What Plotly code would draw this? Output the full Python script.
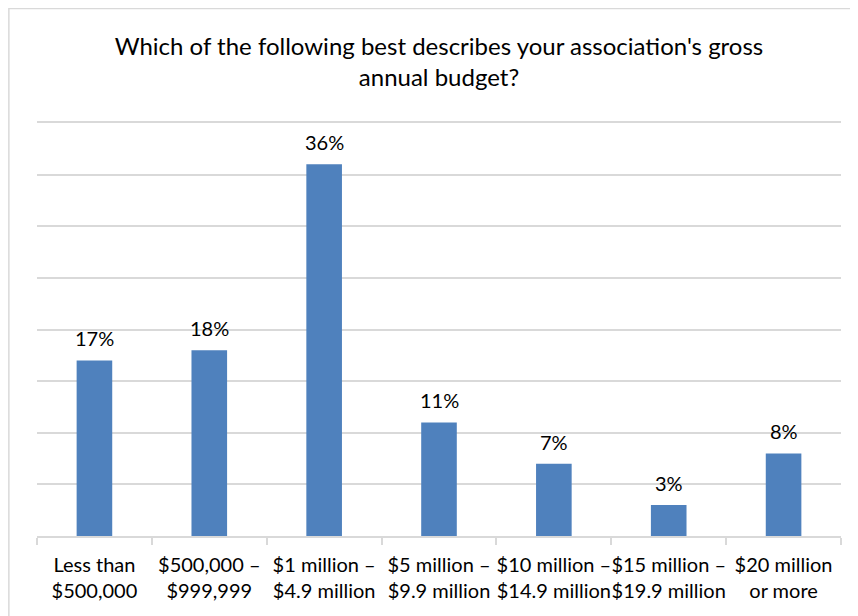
import plotly.graph_objects as go

categories = [
    "Less than<br>$500,000",
    "$500,000 –<br>$999,999",
    "$1 million –<br>$4.9 million",
    "$5 million –<br>$9.9 million",
    "$10 million –<br>$14.9 million",
    "$15 million –<br>$19.9 million",
    "$20 million<br>or more",
]
values = [17, 18, 36, 11, 7, 3, 8]
labels = [f"{v}%" for v in values]

FONT = "Lato, Calibri, sans-serif"
GRID = "#D9D9D9"

fig = go.Figure()

fig.add_trace(go.Bar(
    x=categories, y=values,
    marker=dict(color="#4F81BD", line=dict(width=0)),
    hoverinfo="skip",
))

# data labels a little higher above the bars than textposition="outside" gives
for c, v, t in zip(categories, values, labels):
    fig.add_annotation(x=c, y=v, text=t, showarrow=False,
                       yanchor="middle", yshift=22,
                       font=dict(family=FONT, size=20, color="#000000"))

# chart-area border (only left & top edges visible in the original)
fig.add_shape(type="rect", xref="paper", yref="paper",
              x0=-0.035, x1=1.1, y0=-0.3, y1=1.277,
              line=dict(color=GRID, width=1.5), layer="below")

fig.update_layout(
    width=858, height=616,
    margin=dict(l=29, r=25, t=115, b=88, autoexpand=False),
    paper_bgcolor="white", plot_bgcolor="white",
    bargap=0.69,
    showlegend=False,
    title=dict(
        text="Which of the following best describes your association's gross<br>annual budget?",
        x=0.5, xref="paper", xanchor="center",
        y=0.924, yanchor="top",
        font=dict(family=FONT, size=24, color="#000000"),
    ),
)

# mirrored x line doubles as the top (40%) gridline
fig.update_xaxes(
    automargin=False,
    showline=True, mirror=True, linecolor=GRID, linewidth=1.5,
    ticks="outside", tickson="boundaries", ticklen=7, tickcolor=GRID, tickwidth=1.5,
    ticklabelstandoff=10,
    tickfont=dict(family=FONT, size=20, color="#000000"),
    showgrid=False, tickangle=0,
)
fig.update_yaxes(
    automargin=False,
    range=[0, 40], tick0=0, dtick=5, showticklabels=False,
    showgrid=True, gridcolor=GRID, gridwidth=1.5,
    zeroline=False, showline=False,
)

fig.write_html("out.html")
